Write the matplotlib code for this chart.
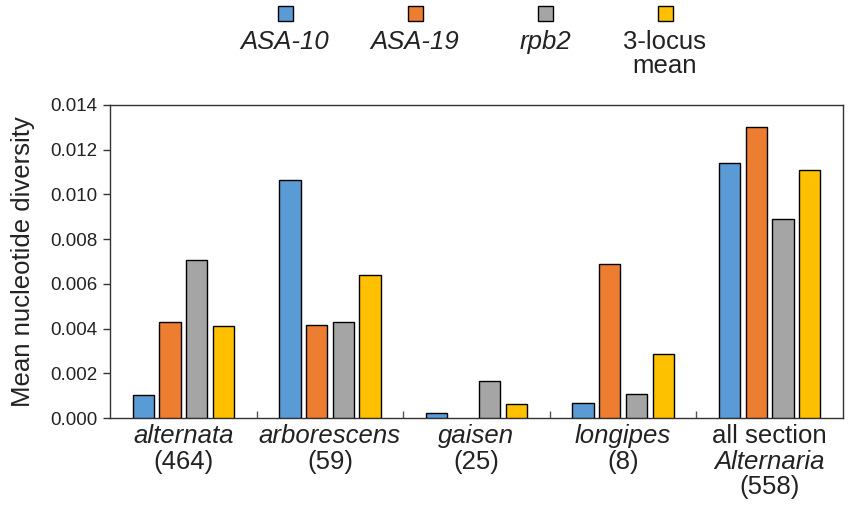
import matplotlib
matplotlib.use("Agg")
import matplotlib.pyplot as plt
from matplotlib.patches import Rectangle
from matplotlib.transforms import blended_transform_factory
import numpy as np

plt.rcParams['font.family'] = ['Liberation Sans', 'DejaVu Sans']

groups = ["alternata", "arborescens", "gaisen", "longipes", "all section"]
group_lines = [
    [("alternata", "italic"), ("(464)", "normal")],
    [("arborescens", "italic"), ("(59)", "normal")],
    [("gaisen", "italic"), ("(25)", "normal")],
    [("longipes", "italic"), ("(8)", "normal")],
    [("all section", "normal"), ("Alternaria", "italic"), ("(558)", "normal")],
]
series_names = ["ASA-10", "ASA-19", "rpb2", "3-locus\nmean"]
series_styles = ["italic", "italic", "italic", "normal"]
asa10 = [0.00104, 0.01066, 0.00021, 0.00067, 0.01140]
asa19 = [0.00428, 0.00414, 0.0, 0.00690, 0.01301]
rpb2 = [0.00707, 0.00429, 0.00167, 0.00107, 0.00890]
mean3 = [0.00413, 0.00638, 0.00063, 0.00288, 0.01110]
colors = ["#5B9BD5", "#ED7D31", "#A5A5A5", "#FFC000"]
yticks = [0.000, 0.002, 0.004, 0.006, 0.008, 0.010, 0.012, 0.014]

fig = plt.figure(figsize=(8.5, 5.07), dpi=100)
ax = fig.add_axes([0.1294, 0.1755, 0.8624, 0.6174])

x = np.arange(len(groups))
pitch = 0.182
width = 0.145
data = [asa10, asa19, rpb2, mean3]
for i, (vals, c) in enumerate(zip(data, colors)):
    offs = (i - 1.5) * pitch
    vals_arr = np.array(vals)
    mask = vals_arr > 0
    ax.bar(x[mask] + offs, vals_arr[mask], width=width, color=c,
           edgecolor="black", linewidth=1.0, zorder=3)

ax.set_xlim(-0.5, len(groups) - 0.5)
ax.set_ylim(0, 0.014)
ax.set_yticks(yticks)
ax.set_yticklabels([f"{v:.3f}" for v in yticks], fontsize=13.5, color="#222222")
ax.tick_params(axis="y", direction="out", length=5, width=1, color="#333333", pad=4)
ax.set_xticks(x)
ax.set_xticklabels([])
ax.tick_params(axis="x", which="major", length=0)
ax.set_xticks(np.arange(0.5, len(groups) - 0.5, 1.0), minor=True)
ax.tick_params(axis="x", which="minor", direction="in", length=5, width=1, color="#555555")
for s in ax.spines.values():
    s.set_color("#333333")
    s.set_linewidth(1.0)

ax.set_ylabel("Mean nucleotide diversity", fontsize=18.5, color="#222222", labelpad=11)

trans = blended_transform_factory(ax.transData, ax.transAxes)
for gi, lines in enumerate(group_lines):
    for li, (txt, style) in enumerate(lines):
        ax.annotate(txt, xy=(x[gi], 0), xycoords=trans,
                    xytext=(0, -13 - li * 18.5), textcoords="offset points",
                    ha="center", va="center", fontsize=18.5, style=style,
                    color="#222222", annotation_clip=False)

# legend drawn manually (handles above labels)
leg_x = [285, 415, 545, 665]
W, H = 850, 507
sq = 15
for lx, c, name, st in zip(leg_x, colors, series_names, series_styles):
    fig.add_artist(Rectangle(((lx - sq / 2) / W, 1 - (6 + sq) / H), sq / W, sq / H,
                             transform=fig.transFigure, facecolor=c,
                             edgecolor="black", linewidth=1.0))
    fig.text(lx / W, 1 - 30 / H, name, ha="center", va="top", fontsize=18.5,
             style=st, color="#222222", linespacing=1.0)

fig.savefig("out.png", dpi=100)
